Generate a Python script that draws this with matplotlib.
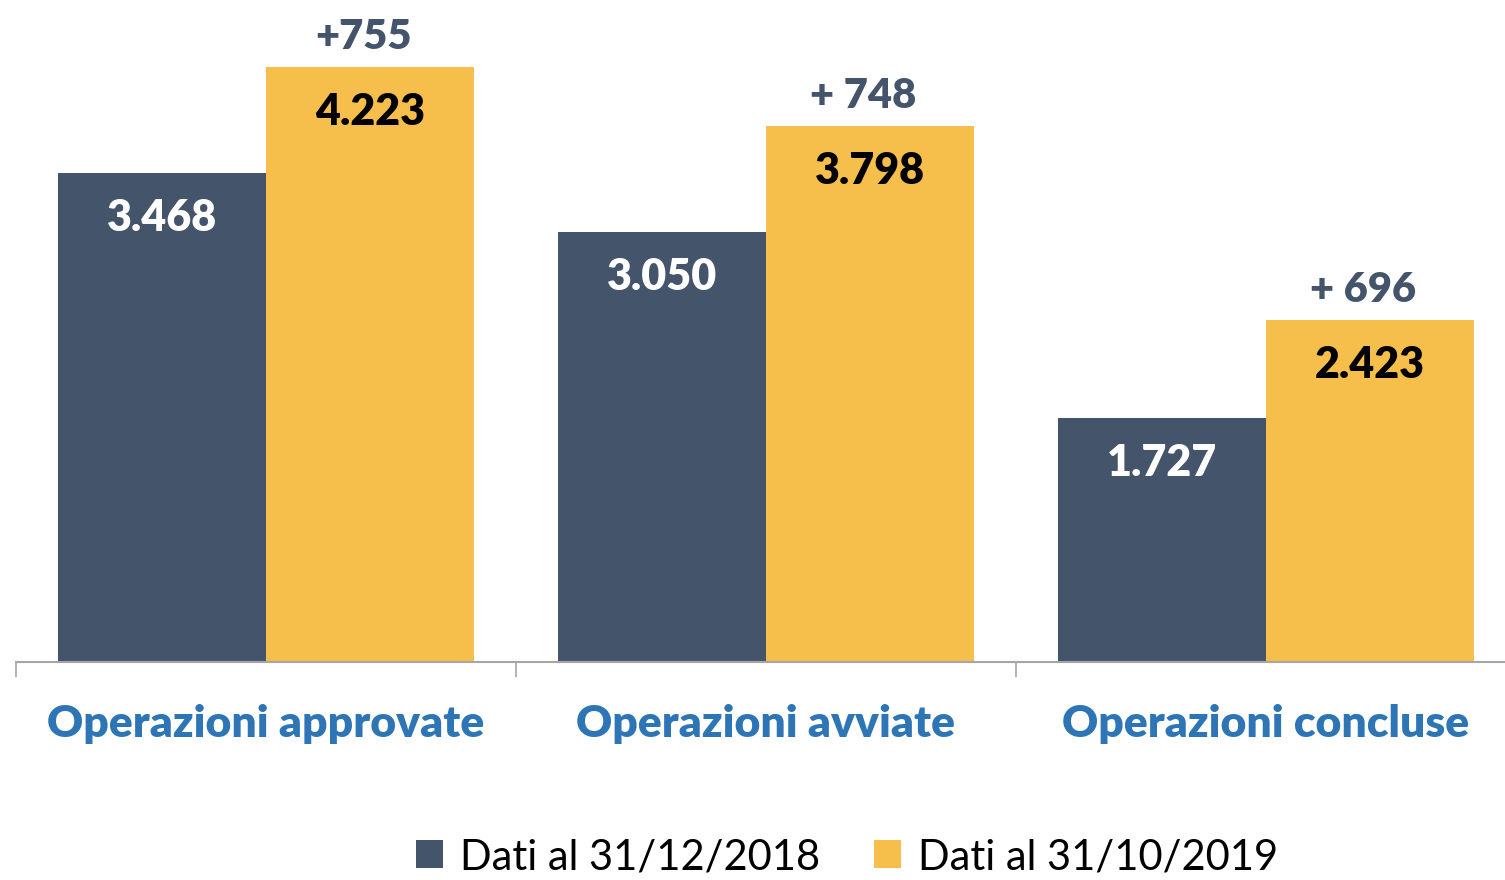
import numpy as np
import matplotlib.pyplot as plt

categories = ["Operazioni approvate", "Operazioni avviate", "Operazioni concluse"]
series_names = ["Dati al 31/12/2018", "Dati al 31/10/2019"]
values_2018 = [3468, 3050, 1727]
values_2019 = [4223, 3798, 2423]
delta_labels = ["+755", "+ 748", "+ 696"]

dark = "#44546A"
yellow = "#F6BE4A"
blue = "#2E75B6"

plt.rcParams['font.family'] = ['Lato', 'DejaVu Sans']


def fmt(v):
    return f"{v:,}".replace(",", ".")


fig = plt.figure(figsize=(15.05, 8.8), dpi=100)
ax = fig.add_axes([16 / 1505, 1 - 662 / 880, 1500 / 1505, 662 / 880])

x = np.arange(len(categories))
w = 0.416
b1 = ax.bar(x - w / 2, values_2018, w, color=dark, label=series_names[0])
b2 = ax.bar(x + w / 2, values_2019, w, color=yellow, label=series_names[1])

ax.set_xlim(-0.5, 2.5)
ax.set_ylim(0, 4695)

for rect, v in zip(b1, values_2018):
    ax.annotate(fmt(v), (rect.get_x() + rect.get_width() / 2, v),
                xytext=(0, -45 * 0.72), textcoords="offset points",
                ha="center", va="center", color="white",
                fontsize=31, fontweight="heavy")
for rect, v, d in zip(b2, values_2019, delta_labels):
    cx = rect.get_x() + rect.get_width() / 2
    ax.annotate(fmt(v), (cx, v), xytext=(0, -45 * 0.72), textcoords="offset points",
                ha="center", va="center", color="black",
                fontsize=31, fontweight="heavy")
    ax.annotate(d, (cx, v), xytext=(-5, 30 * 0.72), textcoords="offset points",
                ha="center", va="center", color=dark,
                fontsize=30, fontweight="heavy")

for s in ["top", "right", "left"]:
    ax.spines[s].set_visible(False)
ax.spines["bottom"].set_color("#A6A6A6")
ax.spines["bottom"].set_linewidth(1.5)
ax.set_yticks([])

ax.set_xticks([-0.5, 0.5, 1.5, 2.5])
ax.set_xticklabels([])
ax.tick_params(axis="x", direction="out", length=11, width=1.2, color="#A6A6A6")
ax.set_xticks(x, minor=True)
ax.set_xticklabels(categories, minor=True, color=blue, fontsize=32, fontweight="heavy")
ax.tick_params(axis="x", which="minor", length=0, pad=30)

fig.legend(handles=[b1, b2], labels=series_names, loc="center",
           bbox_to_anchor=(847 / 1505, 1 - 857 / 880), ncol=2, frameon=False,
           fontsize=30, handlelength=0.65, handleheight=0.65, handletextpad=0.4,
           columnspacing=1.3)

fig.savefig("out.png", dpi=100)
